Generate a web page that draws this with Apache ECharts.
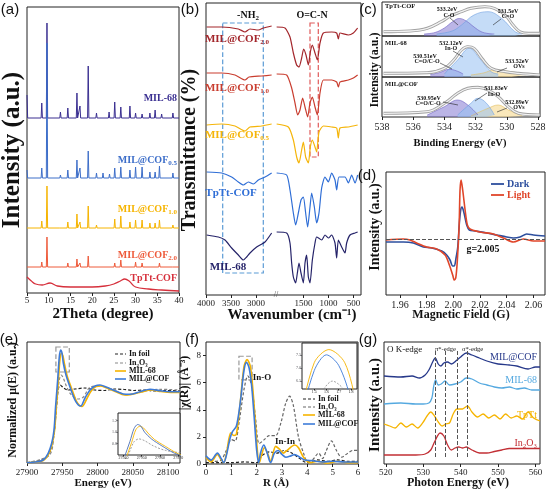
<!DOCTYPE html>
<html><head><meta charset="utf-8">
<script src="https://cdn.jsdelivr.net/npm/echarts@6/dist/echarts.min.js"></script>
<style>html,body{margin:0;padding:0;background:#fff}#c{width:546px;height:491px}</style>
</head><body><div id="c"></div><script>
// ---------- (a) XRD : baseline level + [2theta, apex] ----------
const xrdTicks = [5,10,15,20,25,30,35,40];
const xrdMIL68Base = 175;
const xrdMIL68Peaks = [[5,198],[8.4,190],[9.6,270],[12.7,181],[14.4,185],[16.5,200],[17.2,187],[19.1,227],[21.0,180],[23.9,181],[25.2,191],[26.6,186],[28.7,187],[30.0,180],[31.5,179],[33.3,180],[34.5,183],[36.0,179],[38.6,180]];
const xrdCOF05Base = 115;
const xrdCOF05Peaks = [[5,123],[8.4,125],[9.6,250],[12.7,118],[14.4,123],[16.5,133],[17.2,125],[19.1,142],[21.0,120],[22.5,120],[24.0,119],[25.2,125],[26.6,126],[28.7,123],[30.0,126],[31.5,126],[33.3,121],[34.5,121],[35.5,127],[38.6,120]];
const xrdCOF10Base = 65;
const xrdCOF10Peaks = [[8.4,72],[9.6,107],[12.7,67],[14.4,71],[16.5,79],[17.2,71],[19.1,87],[21.0,68],[25.2,74],[26.6,77],[28.7,71],[30.0,73],[31.5,73],[33.3,70],[34.5,70],[35.5,73],[38.6,68]];
const xrdCOF20Base = 26;
const xrdCOF20Peaks = [[8.4,31],[9.6,56],[14.4,30],[16.5,34],[17.2,30],[19.1,37],[25.2,30],[26.6,33],[30.0,31],[31.5,30],[35.5,30],[38.6,28]];
const xrdTpTt = [[5,16],[6,12],[7,9],[8.5,8],[10.3,10],[12,7],[15,6],[20,6],[23,7],[25,9],[26.5,12],[27.5,14],[28.5,12],[30,6],[33,4],[36,3],[40,2]];

// ---------- (b) FTIR : [wavenumber, level], left (4000-2600) and right (2050-350) segments ----------
const ftirTicksL = [4000,3500,3000];
const ftirTicksR = [1500,1000,500];
const ftirCOF20L = [[3987,268],[3687,268],[3353,266],[3220,263],[3120,266],[2953,265],[2853,267],[2687,269]];
const ftirCOF20R = [[2037,268],[1870,267],[1770,258],[1703,242],[1637,230],[1590,228],[1537,237],[1497,246],[1450,240],[1403,230],[1363,243],[1323,250],[1270,242],[1223,235],[1170,252],[1103,262],[937,263],[837,262],[803,256],[770,262],[603,260],[503,262],[417,267]];
const ftirCOF10L = [[3987,222],[3687,222],[3420,220],[3220,215],[3140,218],[2887,219],[2687,220]];
const ftirCOF10R = [[2037,221],[1837,220],[1737,207],[1670,192],[1617,180],[1570,185],[1517,197],[1470,188],[1417,178],[1370,192],[1323,198],[1270,188],[1223,180],[1170,202],[1103,215],[937,215],[837,213],[803,208],[770,213],[603,215],[503,217],[417,220]];
const ftirCOF05L = [[3987,170],[3687,171],[3420,169],[3220,164],[3120,168],[2887,169],[2687,171]];
const ftirCOF05R = [[2037,171],[1803,168],[1703,155],[1637,138],[1590,132],[1537,145],[1503,153],[1457,138],[1403,132],[1363,148],[1323,155],[1270,148],[1237,143],[1190,163],[1103,169],[937,168],[837,167],[803,157],[770,167],[603,168],[417,170]];
const ftirTpTtL = [[3987,123],[3687,122],[3487,118],[3353,113],[3253,110],[3153,113],[3053,111],[2953,115],[2820,118],[2687,122]];
const ftirTpTtR = [[2037,122],[1837,120],[1770,105],[1703,82],[1657,70],[1603,82],[1550,95],[1503,98],[1457,82],[1417,68],[1370,88],[1337,102],[1283,88],[1237,72],[1190,82],[1137,107],[1070,118],[1003,113],[937,122],[870,115],[837,105],[790,118],[670,118],[603,112],[537,120],[470,112],[417,120]];
const ftirMIL68L = [[3987,60],[3753,58],[3620,55],[3487,47],[3353,40],[3253,35],[3187,38],[3120,42],[2987,48],[2820,53],[2687,62]];
const ftirMIL68R = [[2037,63],[1837,62],[1770,52],[1737,32],[1703,18],[1657,12],[1623,22],[1590,32],[1550,22],[1503,12],[1470,32],[1437,40],[1403,18],[1370,12],[1323,35],[1270,52],[1237,58],[1137,55],[1070,60],[1003,57],[937,60],[870,52],[837,37],[803,55],[737,48],[670,42],[637,52],[570,60],[470,62],[417,63]];
const ftirNH2Box = [[3666,272],[2854,22]];
const ftirOCNBox = [[1370,272],[1204,138]];

// ---------- (c) XPS O1s : [binding energy, level] ----------
const xpsTicks = [538,536,534,532,530,528];
const xpsTopEnv = [[537.9,4.3],[536.2,5],[535.1,7.7],[534.2,14.3],[533.6,20],[532.9,24.3],[532.3,27.7],[531.4,29.3],[530.8,27.7],[530.1,21],[529.6,11],[529.15,4.3],[528.6,2.7],[527.9,2.7]];
const xpsTopCO = [[535.3,2],[534.6,3.5],[534.0,8],[533.5,14],[533.05,17.5],[532.6,15],[532.1,9],[531.64,4.3],[531.2,2.5],[530.8,2]];
const xpsTopCeqO = [[534.5,2],[533.5,5],[532.9,11],[532.1,21],[531.2,24.3],[530.34,17.7],[529.47,4.3],[529.0,2]];
const xpsMidEnv = [[537.9,3.7],[535.1,4.3],[534.0,8.7],[533.4,17],[532.9,27],[532.5,30.3],[532.1,28.7],[531.6,18.7],[531.0,8.7],[530.1,5.3],[529.25,3.7],[527.9,2]];
const xpsMidP = [[534.9,2.5],[534.3,4.5],[533.7,7.7],[533.2,6],[532.8,3]];
const xpsMidB = [[534.0,3],[533.15,17],[532.4,28.7],[531.75,18.7],[531.0,5.3],[530.55,3]];
const xpsMidY = [[532.3,2],[531.5,4],[530.8,7],[529.7,5.3],[528.8,2]];
const xpsBotEnv = [[537.9,3.7],[535.1,5.3],[534.0,13.7],[533.15,23.7],[532.5,28.7],[531.85,29.7],[531.2,27],[530.55,20.3],[529.9,10.3],[529.25,3.7],[527.9,2]];
const xpsBotP = [[535.1,2],[534.0,10.3],[533.15,17],[532.5,12],[531.85,2]];
const xpsBotB = [[533.15,2],[532.3,13.7],[531.85,18.7],[531.3,13.7],[530.8,2]];
const xpsBotY = [[532.3,1],[531.2,8.7],[530.55,12],[529.9,7],[529.0,1]];

// ---------- (d) EPR : [field, level] ----------
const eprTicks = [1.96,1.98,2.00,2.02,2.04,2.06];
const eprDark = [[1.9495,53],[1.9625,53],[1.970,52],[1.9775,48],[1.9838,47],[1.9913,44],[1.995,40],[1.9975,35],[1.9995,29],[2.0007,29],[2.002,37],[2.0033,48],[2.0045,72],[2.0055,85],[2.0065,88],[2.008,82],[2.010,70],[2.012,65],[2.0163,64],[2.025,62],[2.0325,60],[2.040,58],[2.045,57],[2.050,58],[2.055,61],[2.060,60],[2.0687,59]];
const eprLight = [[1.9495,55],[1.9625,56],[1.9675,55],[1.9725,52],[1.980,48],[1.9875,46],[1.9938,40],[1.997,30],[1.9995,20],[2.0007,15],[2.0018,17],[2.003,35],[2.0043,68],[2.005,105],[2.0058,115],[2.007,105],[2.0088,85],[2.0105,70],[2.0125,66],[2.020,63],[2.030,61],[2.0375,57],[2.045,53],[2.0525,56],[2.060,54],[2.0687,54]];
const eprGLevel = 55.7;

// ---------- (e) XANES : [energy, level] ----------
const xanesCOF = [[27900,0.3],[27914,1.3],[27923,3],[27930,9.7],[27935,19.7],[27938.3,33],[27940.5,56],[27943.5,83],[27945.8,106],[27947.8,113],[27949.6,110],[27951.5,100],[27955.3,88],[27961,76],[27968,63],[27972.8,58],[27976.2,57],[27982.3,65],[27989.4,73],[27996.5,77],[28003.5,78],[28013,75.7],[28024.8,72.3],[28036.6,69],[28046,68.7],[28060.3,71.3],[28074.5,73.7],[28088.7,72.3],[28102.9,71.3],[28117,71.3]];
const xanesMIL68 = [[27900,0.3],[27914,1.3],[27923,2.5],[27930,8],[27935,17],[27939,32],[27941.5,55],[27944.5,82],[27946.8,104],[27949,110],[27951,107],[27953.5,98],[27957,87],[27963,75],[27970,62],[27975.2,57],[27978,56.5],[27984.7,64],[27991,72],[27998,76.5],[28005,77],[28015,74.5],[28027,71],[28038,68],[28048,68.5],[28062,71],[28076,73],[28090,71.5],[28104,70.5],[28117,70.5]];
const xanesInFoil = [[27900,0.3],[27928,6],[27937,23],[27941,50],[27943.8,72],[27947,78],[27952,75],[27958,73],[27968,74],[27982,75],[27996,73],[28010,72.5],[28024,74],[28038,73.5],[28052,72.5],[28066,73],[28080,72],[28095,72.5],[28117,72]];
const xanesIn2O3 = [[27900,0.3],[27932,8],[27938.3,30],[27943,63],[27945.8,83],[27948.5,88],[27951.5,85],[27956.3,76],[27963,68],[27972.8,64],[27980,66],[27989.4,75.7],[28003.5,77],[28013,75.7],[28031.9,70.3],[28041.3,68],[28050.8,69],[28069.7,72.3],[28088.7,73.7],[28117,73]];
const xanesBox = [[27941,116],[27960,91]];
const xanesInsetTicks = [27940,27950,27960,27970];

// ---------- (f) EXAFS |chi(R)| ----------
const exafsYTicks = [0,2,4,6,8];
const exafsCOF = [[0,0.6],[0.2,0.3],[0.45,0.8],[0.6,0.4],[0.7,0.1],[0.8,0.6],[0.95,1.9],[1.05,2.4],[1.2,2.8],[1.35,4.5],[1.5,6.9],[1.6,7.5],[1.7,7.1],[1.8,5.8],[1.9,3.5],[2.0,1.0],[2.08,0.1],[2.15,0.8],[2.28,1.4],[2.4,0.9],[2.55,0.1],[2.7,0.8],[2.85,1.0],[3.0,0.7],[3.15,0.5],[3.35,0.6],[3.5,0.7],[3.7,0.5],[3.9,0.3],[4.2,0.25],[4.6,0.15],[5.0,0.2],[5.5,0.15],[6.0,0.15]];
const exafsMIL68 = [[0,0.5],[0.2,0.15],[0.45,0.7],[0.6,0.3],[0.7,0.1],[0.8,0.7],[0.98,2.3],[1.1,2.1],[1.2,2.2],[1.35,4.5],[1.5,7.2],[1.62,7.7],[1.75,7.2],[1.85,5.5],[1.95,3.0],[2.05,0.5],[2.1,0.1],[2.2,0.7],[2.3,1.2],[2.45,0.7],[2.55,0.2],[2.75,1.3],[2.9,1.1],[3.05,0.8],[3.2,1.0],[3.5,1.4],[3.65,1.2],[3.85,0.5],[4.1,0.1],[4.4,0.2],[4.8,0.05],[5.2,0.2],[5.6,0.1],[6.0,0.1]];
const exafsInFoil = [[0,0.1],[0.5,0.1],[1.0,0.1],[1.5,0.15],[2.0,0.1],[2.2,0.6],[2.5,0.9],[2.8,0.8],[3.1,1.0],[3.4,0.8],[3.7,0.4],[4.0,0.1],[4.4,0.3],[4.8,0.2],[5.2,0.3],[5.6,0.2],[6.0,0.2]];
const exafsIn2O3 = [[0,0.5],[0.3,0.2],[0.6,0.3],[0.8,1.0],[1.0,1.8],[1.15,1.7],[1.3,3.0],[1.5,5.5],[1.65,6.5],[1.8,5.8],[1.95,3.5],[2.1,1.5],[2.3,1.8],[2.5,2.1],[2.75,2.1],[2.95,3.0],[3.15,4.5],[3.3,5.0],[3.45,4.3],[3.65,2.0],[3.85,0.8],[4.0,0.2],[4.2,0.3],[4.45,0.8],[4.6,0.4],[4.75,1.0],[4.95,1.7],[5.15,1.0],[5.35,0.5],[5.6,0.8],[5.8,1.0],[6.0,1.0]];
const exafsBox = [[1.30,7.95],[1.82,6.2]];

// ---------- (g) O K-edge : [photon energy, level] ----------
const okTicks = [520,530,540,550,560];
const okCOF = [[519.5,88],[524,87],[527,88],[529,86],[530.5,89],[531.5,94],[532.5,102],[533.2,106],[534,100],[534.7,98],[535.5,101],[536.5,102],[537.5,100],[539,104],[540,107],[541.5,111],[543,109],[545,106],[547,103],[550,100],[553,99],[555,98],[558,95],[560,97],[561.2,97]];
const okMIL68 = [[519.5,60],[524,61],[528,60],[530,60],[531.5,61],[532.3,66],[532.8,78],[533.3,84],[534,79],[534.8,80],[535.8,83],[537,79],[538.5,80],[540,82],[541.5,86],[543,85],[545,81],[547,79],[549,77],[551,76],[553,77],[555,75],[557,76],[559,74],[561.2,74]];
const okTpTt = [[519.5,40],[521,38],[522.5,36],[524,41],[525.5,37],[527,40],[528.5,36],[530,42],[531,48],[532,52],[533,48],[534,42],[535,38],[536,40],[537,41],[538,50],[539,55],[540.5,55],[541.8,58],[543,52],[544.5,47],[546,50],[547.5,46],[549,49],[550.5,45],[552,50],[553.5,46],[555,48],[556.5,45],[558,52],[559.5,46],[561.2,43]];
const okIn2O3 = [[519.5,9],[524,9],[528,9],[530.5,10],[532,14],[533,22],[534.5,31],[535.5,28],[536.5,19],[537.5,14],[538.5,16],[539.5,17],[540.5,16],[541.5,17],[543,14],[545,11],[547,11],[549,12.5],[551,14],[553,15.5],[556,15.5],[561.2,15.5]];
const okEdgeLines = [533.2,535.8,539.2,541.8];
const okEdgeSpan = [7,114];

// ================== build ==================
const serif = '"Liberation Serif","Times New Roman",serif';
const sans = '"Liberation Sans",Arial,sans-serif';
const plain = v=>String(v);

function xrdLine(base, peaks){
  const out=[]; let started=false;
  peaks.forEach(([p,h])=>{
    if(p<=5){out.push([5,h],[5.15,base]);started=true;}
    else{ if(!started){out.push([5,base]);started=true;} out.push([p-0.15,base],[p,h],[p+0.15,base]); }
  });
  out.push([40,base]); return out;
}

const C = {
  navy:'#3a2f91', blue:'#3d6ec9', yellow:'#f6b400', orange:'#ee5a3a', red:'#d6303c',
  bDark:'#a3262b', bRed:'#c93d2f', bYel:'#f5b50a', bBlue:'#2f6ed6', bNavy:'#252369',
  dBlue:'#2d4f9e', dRed:'#e0462a',
  eYel:'#f6b400', eBlue:'#3d7bd8',
  gNavy:'#27398a', gLight:'#55a9e0', gYel:'#f6b400', gRed:'#c22f35'
};

const G = (o)=>Object.assign({show:true,borderColor:'#222',borderWidth:1,outerBoundsMode:'none',containLabel:false},o);
const grids = [
  G({left:27,top:7,width:152,height:286}),
  G({left:206,top:3,width:70,height:292,show:false}),
  G({left:276,top:3,width:85,height:292,show:false}),
  G({left:382,top:2,width:158,height:34}),
  G({left:382,top:36,width:158,height:41}),
  G({left:382,top:77,width:158,height:40}),
  G({left:386,top:172,width:159,height:123}),
  G({left:27,top:342,width:153,height:121}),
  G({left:206,top:342,width:152,height:122}),
  G({left:384,top:342,width:156,height:122}),
  G({left:118,top:413,width:62,height:42,backgroundColor:'#fff'}),
  G({left:302,top:343,width:55,height:46,backgroundColor:'#fff'})
];
function X(o){
  const lab = Object.assign({fontFamily:serif,fontSize:9,color:'#222',margin:3,formatter:plain}, o.lab||{});
  const tick = Object.assign({length:3,lineStyle:{color:'#222'}}, o.tick||{});
  if(o.cv){lab.customValues=o.cv; tick.customValues=o.cv;}
  const a = {type:'value',gridIndex:o.g,min:o.min,max:o.max,inverse:!!o.inv,axisLine:{show:false},splitLine:{show:false},axisLabel:lab,axisTick:tick};
  if(o.interval) a.interval=o.interval;
  if(o.show===false) a.show=false;
  return a;
}
const xAxes = [
  X({g:0,min:5,max:40,interval:5}),
  X({g:1,min:2600,max:4000,inv:true,cv:ftirTicksL,lab:{margin:4}}),
  X({g:2,min:350,max:2050,inv:true,cv:ftirTicksR,lab:{margin:4}}),
  X({g:3,min:527.87,max:538,inv:true,show:false}),
  X({g:4,min:527.87,max:538,inv:true,show:false}),
  X({g:5,min:527.87,max:538,inv:true,cv:xpsTicks,lab:{fontSize:10,margin:5}}),
  X({g:6,min:1.9495,max:2.0687,cv:eprTicks,lab:{fontSize:10,margin:5,formatter:v=>Number(v).toFixed(2)}}),
  X({g:7,min:27900,max:28117,interval:50,lab:{margin:5}}),
  X({g:8,min:0,max:6,interval:1,lab:{margin:4}}),
  X({g:9,min:519.5,max:561.2,cv:okTicks,lab:{margin:4}}),
  X({g:10,min:27937,max:27971,cv:xanesInsetTicks,lab:{fontSize:4,margin:1},tick:{length:1.5}}),
  X({g:11,min:1.4,max:1.85,cv:[1.5,1.6,1.7,1.8],lab:{fontSize:4,margin:1,formatter:v=>Number(v).toFixed(1)},tick:{length:1.5}})
];
const Yh = (g,min,max)=>({type:'value',gridIndex:g,min,max,show:false});
const yAxes = [
  Yh(0,0,286), Yh(1,0,292), Yh(2,0,292), Yh(3,0,34), Yh(4,0,41), Yh(5,0,40), Yh(6,0,123), Yh(7,0,121),
  {type:'value',gridIndex:8,min:0,max:9,axisLine:{show:false},splitLine:{show:false},
    axisTick:{length:3,customValues:exafsYTicks,lineStyle:{color:'#222'}},
    axisLabel:{customValues:exafsYTicks,fontFamily:serif,fontSize:9,color:'#222',margin:5}},
  Yh(9,0,122),
  {type:'value',gridIndex:10,min:60,max:133,axisLine:{show:false},splitLine:{show:false},axisTick:{length:1.5,customValues:[80,100,120]},axisLabel:{customValues:[80,100,120],fontSize:4,margin:1,fontFamily:serif,formatter:v=>(v/100).toFixed(1)}},
  {type:'value',gridIndex:11,min:6.2,max:7.95,axisLine:{show:false},splitLine:{show:false},axisTick:{length:1.5,customValues:[6.5,7,7.5]},axisLabel:{customValues:[6.5,7,7.5],fontSize:4,margin:1,fontFamily:serif,formatter:v=>Number(v).toFixed(1)}}
];

function L(idx,data,color,opt){
  opt=opt||{};
  const s = {type:'line',xAxisIndex:idx,yAxisIndex:idx,data,showSymbol:false,symbol:'none',smooth:opt.smooth||false,
    lineStyle:{color,width:opt.w||1.2,type:opt.dash||'solid'},itemStyle:{color},z:opt.z||2,silent:true,animation:false};
  if(opt.area) s.areaStyle={color:opt.area,opacity:1};
  if(opt.markArea) s.markArea=opt.markArea;
  if(opt.markLine) s.markLine=opt.markLine;
  return s;
}
const boxMA = (box,color)=>({silent:true,itemStyle:{color:'rgba(0,0,0,0)',borderColor:color,borderWidth:1.2,borderType:'dashed'},
  data:[[{coord:box[0]},{coord:box[1]}]]});

const series = [
  // (a)
  L(0,xrdLine(xrdMIL68Base,xrdMIL68Peaks),C.navy,{w:1}),
  L(0,xrdLine(xrdCOF05Base,xrdCOF05Peaks),C.blue,{w:1}),
  L(0,xrdLine(xrdCOF10Base,xrdCOF10Peaks),C.yellow,{w:1}),
  L(0,xrdLine(xrdCOF20Base,xrdCOF20Peaks),C.orange,{w:1}),
  L(0,xrdTpTt,C.red,{w:1.3,smooth:0.4}),
  // (b)
  L(1,ftirCOF20L,C.bDark,{smooth:0.2}), L(2,ftirCOF20R,C.bDark,{smooth:0.2,markArea:boxMA(ftirOCNBox,'#e05a5a')}),
  L(1,ftirCOF10L,C.bRed,{smooth:0.2}), L(2,ftirCOF10R,C.bRed,{smooth:0.2}),
  L(1,ftirCOF05L,C.bYel,{smooth:0.2}), L(2,ftirCOF05R,C.bYel,{smooth:0.2}),
  L(1,ftirTpTtL,C.bBlue,{smooth:0.2}), L(2,ftirTpTtR,C.bBlue,{smooth:0.2}),
  L(1,ftirMIL68L,C.bNavy,{smooth:0.2,markArea:boxMA(ftirNH2Box,'#5b9bd5')}), L(2,ftirMIL68R,C.bNavy,{smooth:0.2}),
  // (c) top
  L(3,xpsTopCO,'#6d60c2',{w:0.6,smooth:0.4,area:'rgba(120,108,205,0.5)'}),
  L(3,xpsTopCeqO,'#6fa0e0',{w:0.6,smooth:0.4,area:'rgba(140,185,240,0.5)'}),
  L(3,xpsTopEnv,'#a0a0a0',{w:3,smooth:0.4,z:3}), L(3,xpsTopEnv,'#f2f2f2',{w:1.3,smooth:0.4,z:4}),
  // (c) mid
  L(4,xpsMidY,'#e2c060',{w:0.6,smooth:0.4,area:'rgba(247,220,150,0.65)'}),
  L(4,xpsMidP,'#6d60c2',{w:0.6,smooth:0.4,area:'rgba(120,108,205,0.5)'}),
  L(4,xpsMidB,'#6fa0e0',{w:0.6,smooth:0.4,area:'rgba(150,192,242,0.55)'}),
  L(4,xpsMidEnv,'#a0a0a0',{w:3,smooth:0.4,z:3}), L(4,xpsMidEnv,'#f2f2f2',{w:1.3,smooth:0.4,z:4}),
  // (c) bot
  L(5,xpsBotY,'#e2c060',{w:0.6,smooth:0.4,area:'rgba(247,220,150,0.65)'}),
  L(5,xpsBotP,'#6d60c2',{w:0.6,smooth:0.4,area:'rgba(120,108,205,0.5)'}),
  L(5,xpsBotB,'#6fa0e0',{w:0.6,smooth:0.4,area:'rgba(150,192,242,0.55)'}),
  L(5,xpsBotEnv,'#a0a0a0',{w:3,smooth:0.4,z:3}), L(5,xpsBotEnv,'#f2f2f2',{w:1.3,smooth:0.4,z:4}),
  // (d)
  L(6,eprDark,C.dBlue,{w:1.6,smooth:0.3,markLine:{silent:true,symbol:['none','none'],label:{show:false},lineStyle:{color:'#555',type:'dashed',width:1},data:[{yAxis:eprGLevel}]}}),
  L(6,eprLight,C.dRed,{w:1.6,smooth:0.3}),
  // (e)
  L(7,xanesInFoil,'#222',{w:1.2,dash:[3,2],smooth:0.3}),
  L(7,xanesIn2O3,'#888',{w:1.2,dash:[3,2],smooth:0.3}),
  L(7,xanesMIL68,C.eYel,{w:1.6,smooth:0.3}),
  L(7,xanesCOF,C.eBlue,{w:1.6,smooth:0.3,markArea:boxMA(xanesBox,'#999')}),
  L(10,xanesIn2O3,'#888',{w:0.8,dash:[2,1.5],smooth:0.3}),
  L(10,xanesMIL68,C.eYel,{w:0.9,smooth:0.3}),
  L(10,xanesCOF,'#4a6fb5',{w:0.9,smooth:0.3}),
  // (f)
  L(8,exafsInFoil,'#222',{w:1.2,dash:[3,2],smooth:0.3}),
  L(8,exafsIn2O3,'#666',{w:1.2,dash:[3,2],smooth:0.3}),
  L(8,exafsMIL68,C.eYel,{w:1.6,smooth:0.3}),
  L(8,exafsCOF,C.eBlue,{w:1.6,smooth:0.3,markArea:boxMA(exafsBox,'#999')}),
  L(11,exafsIn2O3,'#888',{w:0.8,dash:[2,1.5],smooth:0.3}),
  L(11,exafsMIL68,C.eYel,{w:0.9,smooth:0.3}),
  L(11,exafsCOF,C.eBlue,{w:0.9,smooth:0.3}),
  // (g)
  L(9,okIn2O3,C.gRed,{w:1.3,smooth:0.3}),
  L(9,okTpTt,C.gYel,{w:1.3,smooth:0.3}),
  L(9,okMIL68,C.gLight,{w:1.3,smooth:0.3}),
  L(9,okCOF,C.gNavy,{w:1.3,smooth:0.3,markLine:{silent:true,symbol:['none','none'],label:{show:false},lineStyle:{color:'#555',type:'dashed',width:1},
    data:okEdgeLines.map(e=>[{coord:[e,okEdgeSpan[0]]},{coord:[e,okEdgeSpan[1]]}])}})
];

// ---------- text / decorations ----------
function T(x,y,text,size,o){
  o=o||{};
  return {type:'text',x,y,rotation:o.rot||0,z:10,silent:true,style:{text,fontSize:size,fontFamily:o.ff||serif,fontWeight:o.fw||'bold',
    fill:o.color||'#111',align:o.align||'center',verticalAlign:'middle'}};
}
function TS(x,y,main,sub,size,color,o){
  o=o||{};
  const ss=Math.round(size*0.68);
  return {type:'text',x,y,z:10,silent:true,style:{text:'{m|'+main+'}{s|'+sub+'}'+(o.after?'{m|'+o.after+'}':''),align:o.align||'center',verticalAlign:'middle',
    rich:{m:{fontSize:size,fontFamily:serif,fontWeight:o.fw||'bold',fill:color,lineHeight:size+3,verticalAlign:'middle'},
          s:{fontSize:ss,fontFamily:serif,fontWeight:o.fw||'bold',fill:color,lineHeight:ss,verticalAlign:'bottom'}}}};
}
function Ln(x1,y1,x2,y2,color,w,dash){
  return {type:'line',z:10,silent:true,shape:{x1,y1,x2,y2},style:{stroke:color,lineWidth:w||1,lineDash:dash||null}};
}
const R90 = Math.PI/2;
const graphics = [
  // panel letters
  T(10,10,'(a)',15,{ff:sans,fw:'normal'}), T(190,10,'(b)',15,{ff:sans,fw:'normal'}), T(368,10,'(c)',15,{ff:sans,fw:'normal'}),
  T(367,176,'(d)',15,{ff:sans,fw:'normal'}), T(9,340,'(e)',15,{ff:sans,fw:'normal'}), T(192,340,'(f)',15,{ff:sans,fw:'normal'}), T(368,340,'(g)',15,{ff:sans,fw:'normal'}),
  // axis titles
  T(13,150,'Intensity (a.u.)',25,{rot:R90}), T(103,314,'2Theta (degree)',15),
  T(190,150,'Transmittance (%)',20,{rot:R90}), T(292,315,'Wavenumber (cm⁻¹)',15),
  T(375,70,'Intensity (a.u.)',12,{rot:R90}), T(460,143,'Binding Energy (eV)',10.5),
  T(375,227,'Intensity (a.u.)',14,{rot:R90}), T(461,315,'Magnetic Field (G)',12),
  T(13,400,'Normalized μ(E) (a.u.)',12,{rot:R90}), T(103,483,'Energy (eV)',11),
  T(185,383,'|χ(R)| (Å⁻³)',12,{rot:R90}), T(276,483,'R (Å)',11),
  T(375,405,'Intensity (a.u.)',15,{rot:R90}), T(458,483,'Photon Energy (eV)',12),
  // (a) labels
  T(177,98,'MIL-68',10,{align:'right',color:C.navy}),
  TS(177,160,'MIL@COF','0.5',10,C.blue,{align:'right'}),
  TS(177,209,'MIL@COF','1.0',10,C.yellow,{align:'right'}),
  TS(177,255,'MIL@COF','2.0',10,C.orange,{align:'right'}),
  T(177,278,'TpTt-COF',10,{align:'right',color:C.red}),
  // (b) labels
  TS(237,39,'MIL@COF','2.0',11,C.bDark), TS(237,88,'MIL@COF','1.0',11,C.bRed), TS(237,135,'MIL@COF','0.5',11,C.bYel),
  T(231,193,'TpTt-COF',11,{color:C.bBlue}), T(228,267,'MIL-68',11,{color:C.bNavy}),
  TS(248,15,'-NH','2',10,'#111'), T(312,15,'O=C-N',10),
  T(276,295,'//',8,{fw:'normal',color:'#444'}),
  {type:'rect',z:9,silent:true,shape:{x:206,y:3,width:155,height:292},style:{fill:'none',stroke:'#222',lineWidth:1}},
  // (c) labels
  T(385,6,'TpTt-COF',6.5,{align:'left'}), T(385,43,'MIL-68',6.5,{align:'left'}), T(385,84,'MIL@COF',6.5,{align:'left'}),
  T(447,9,'533.2eV',6), T(449,15,'C-O',6), Ln(450,18,458,25,'#222',0.6),
  T(508,11,'531.5eV',6), T(508,16.5,'C=O',6), Ln(501,19,493,25,'#222',0.6),
  T(451,43,'532.12eV',6), T(451,48.5,'In-O',6), Ln(453,51,463,57,'#222',0.6),
  T(425,56.5,'530.51eV',6), T(427,61.5,'C=O/C-O',6), Ln(440,63,452,69,'#222',0.6),
  T(517,61.5,'533.52eV',6), T(519,66.5,'OVs',6), Ln(507,68,497,72,'#222',0.6),
  T(496,88,'531.83eV',6), T(494,94,'In-O',6), Ln(487,93,475,101,'#222',0.6),
  T(429,98,'530.95eV',6), T(428,103,'C=O/C-O',6), Ln(443,102,458,105,'#222',0.6),
  T(517,102,'532.89eV',6), T(519,107,'OVs',6), Ln(507,108,497,112,'#222',0.6),
  // (d)
  T(483,249,'g=2.005',10),
  Ln(491,184,504,184,C.dBlue,1.8), T(507,184,'Dark',10,{align:'left',color:C.dBlue}),
  Ln(491,195,504,195,C.dRed,1.8), T(507,195,'Light',10,{align:'left',color:C.dRed}),
  // (e) legend
  Ln(115,354,126,354,'#222',1.2,[3,2]), T(129,354,'In foil',8,{align:'left'}),
  Ln(115,363,126,363,'#888',1.2,[3,2]), TS(129,363,'In','2',8,'#111',{align:'left',after:'O₃'}),
  Ln(115,371,126,371,C.eYel,1.6), T(129,371,'MIL-68',8,{align:'left'}),
  Ln(115,379,126,379,C.eBlue,1.6), T(129,379,'MIL@COF',8,{align:'left'}),
  // (f)
  Ln(303,399,315,399,'#222',1.2,[3,2]), T(318,399,'In foil',8,{align:'left'}),
  Ln(303,407,315,407,'#666',1.2,[3,2]), TS(318,407,'In','2',8,'#111',{align:'left',after:'O₃'}),
  Ln(303,415,315,415,C.eYel,1.6), T(318,415,'MIL-68',8,{align:'left'}),
  Ln(303,424,315,424,C.eBlue,1.6), T(318,424,'MIL@COF',8,{align:'left'}),
  T(262,378,'In-O',9), T(285,442,'In-In',9),
  // (g)
  T(387,350,'O K-edge',9,{align:'left',fw:'normal'}), T(435,349,'π*-edge',6.5,{align:'left',fw:'normal'}), T(462,349,'σ*-edge',6.5,{align:'left',fw:'normal'}),
  T(537,357,'MIL@COF',10,{align:'right',fw:'normal',color:C.gNavy}),
  T(537,380,'MIL-68',10,{align:'right',fw:'normal',color:C.gLight}),
  T(537,415,'TpTt',10,{align:'right',fw:'normal',color:C.gYel}),
  TS(537,443,'In','2',10,C.gRed,{align:'right',fw:'normal',after:'O₃'})
];

const chart = echarts.init(document.getElementById('c'),null,{renderer:'canvas'});
chart.setOption({animation:false,backgroundColor:'#fff',grid:grids,xAxis:xAxes,yAxis:yAxes,series,graphic:graphics});
</script></body></html>
